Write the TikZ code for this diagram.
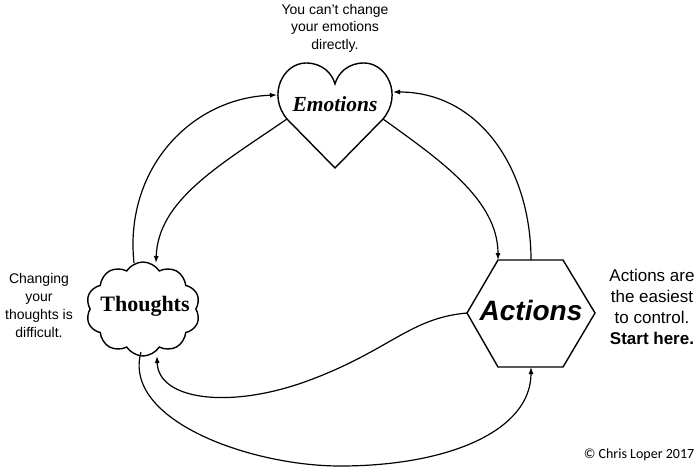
\documentclass[tikz,border=0pt]{standalone}
\usepackage{fontspec}
\setmainfont{Liberation Sans}
\newfontfamily\serifb{Liberation Serif}
\newfontfamily\calib{Carlito}
\usetikzlibrary{arrows.meta,shapes.symbols}
\begin{document}
\begin{tikzpicture}[x=1pt,y=-1pt,
  conn/.style={-{Latex[length=7pt,width=5pt]}, line width=1.2pt},
  shp/.style={line width=1.4pt},
  note/.style={align=center, inner sep=0pt}]
\path[use as bounding box, fill=white] (0,0) rectangle (700,470);

% heart
\draw[shp] (335,168) -- (287,119) .. controls (267,95) and (283,63) .. (306,63)
  .. controls (322,63) and (332,73) .. (335,84)
  .. controls (338,73) and (348,63) .. (364,63)
  .. controls (387,63) and (403,95) .. (383,119) -- cycle;
\node (emo) at (335,104) {\serifb\bfseries\itshape\fontsize{21.5}{21.5}\selectfont Emotions};

% hexagon
\draw[shp] (498,260) -- (563,260) -- (595,313) -- (563,367) -- (498,367) -- (467,313) -- cycle;
\node (act) at (531,310) {\bfseries\itshape\fontsize{28}{28}\selectfont Actions};

% cloud
\node[cloud, draw, shp, cloud puffs=10, cloud puff arc=115, aspect=1.2,
  minimum width=114pt, minimum height=94pt, inner sep=0pt] (th) at (143,309) {};
\node (tht) at (145,306) {\serifb\bfseries\fontsize{22}{22}\selectfont Thoughts};

% anchor coordinates
\coordinate (hL) at (277,95);
\coordinate (hLL) at (287,119);
\coordinate (hLR) at (383,119);
\coordinate (hR) at (393,92);
\coordinate (tT1) at (134,263);
\coordinate (tT2) at (156,263);
\coordinate (tB1) at (157,356);
\coordinate (tB2) at (141,352);
\coordinate (xT1) at (498,260);
\coordinate (xT2) at (531,260);
\coordinate (xL) at (467,313);
\coordinate (xB) at (531,367);

% connectors
\draw[conn] (tT1) .. controls (124,170) and (190,98) .. (hL);
\draw[conn] (hLL) .. controls (220,165) and (158,200) .. (tT2);
\draw[conn] (hLR) .. controls (440,160) and (498,200) .. (xT1);
\draw[conn] (xT2) .. controls (531,170) and (480,92) .. (hR);
\draw[conn] (xL) .. controls (410,318) and (390,350) .. (310,380)
  .. controls (230,410) and (158,400) .. (tB1);
\draw[conn] (tB2) .. controls (122,420) and (250,466) .. (340,466)
  .. controls (450,466) and (531,430) .. (xB);

% notes
\node[note, font=\fontsize{14}{17.5}\selectfont] (n1) at (335,28)
  {You can't change\\your emotions\\directly.};
\node[note, font=\fontsize{14}{18}\selectfont] (n2) at (39,305)
  {Changing\\your\\thoughts is\\difficult.};
\node[note, font=\fontsize{17}{21}\selectfont] (n3) at (652,307)
  {Actions are\\the easiest\\to control.\\\textbf{Start here.}};
\node[note, font=\calib\fontsize{14}{14}\selectfont] (n4) at (639,455)
  {© Chris Loper 2017};
\end{tikzpicture}
\end{document}
